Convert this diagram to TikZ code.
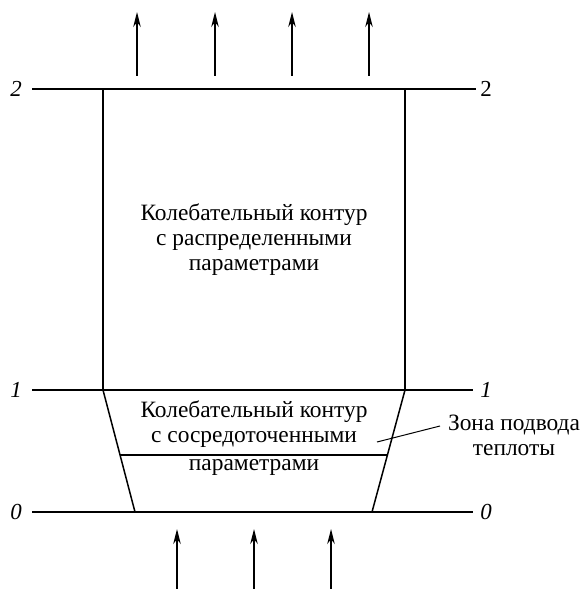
\documentclass[tikz,border=0pt]{standalone}
\usepackage{fontspec}
\setmainfont{Liberation Serif}
\usetikzlibrary{arrows.meta}

\begin{document}
\begin{tikzpicture}[x=1bp, y=-1bp,
    lvl/.style = {line width=1.5bp},
    wall/.style = {line width=1.5bp},
    bold/.style = {line width=2.4bp},
    flow/.style = {line width=1.5bp, -{Stealth[length=15bp, width=7.5bp]}},
    txt/.style = {align=center, font=\rmfamily\fontsize{23.5}{25}\selectfont, inner sep=0pt},
    lbl/.style = {font=\rmfamily\fontsize{23}{24}\selectfont\itshape, inner sep=0pt}]
    \useasboundingbox (0,0) rectangle (582,589);
    % corners
    \coordinate (a) at (103,89);
    \coordinate (b) at (405,89);
    \coordinate (c) at (103,390);
    \coordinate (d) at (405,390);
    \coordinate (e) at (135,512);
    \coordinate (f) at (372,512);
    \coordinate (g) at (120,455);
    \coordinate (h) at (387.5,455);
    % level lines
    \coordinate (2l) at (32,89);  \coordinate (2r) at (476,89);
    \coordinate (1l) at (32,390); \coordinate (1r) at (473,390);
    \coordinate (0l) at (32,512); \coordinate (0r) at (473,512);
    \node[lbl] (n2l) at (16,89) {2};
    \node[lbl, font=\rmfamily\fontsize{23}{24}\selectfont] (n2r) at (486,89) {2};
    \node[lbl] (n1l) at (16,390) {1};
    \node[lbl] (n1r) at (486,390) {1};
    \node[lbl] (n0l) at (16,512) {0};
    \node[lbl] (n0r) at (486,512) {0};
    \draw[lvl] (2l) -- (a);
    \draw[lvl] (b) -- (2r);
    \draw[lvl] (1l) -- (1r);
    \draw[lvl] (0l) -- (0r);
    % body
    \draw[bold] (a) -- (b);
    \draw[wall] (a) -- (c);
    \draw[wall] (b) -- (d);
    \draw[wall] (c) -- (e);
    \draw[wall] (d) -- (f);
    \draw[bold] (g) -- (h);
    % texts
    \node[txt] (top) at (254,240) {Колебательный контур\\с распределенными\\параметрами};
    \node[txt] (low) at (254,424) {Колебательный контур\\с сосредоточенными};
    \node[txt] (low2) at (254,467) {параметрами};
    \node[txt] (zona) at (514,435) {Зона подвода\\теплоты};
    \coordinate (z1) at (440,426);
    \coordinate (z2) at (377,442);
    \draw[line width=1bp] (z1) -- (z2);
    % flows
    \foreach \x [count=\i] in {137,215,292,369} {
        \coordinate (ot\i) at (\x,76);
        \coordinate (oh\i) at (\x,12);
        \draw[flow] (ot\i) -- (oh\i);
    }
    \foreach \x [count=\i] in {177,254,331} {
        \coordinate (it\i) at (\x,589);
        \coordinate (ih\i) at (\x,529);
        \draw[flow] (it\i) -- (ih\i);
    }
\end{tikzpicture}
\end{document}
